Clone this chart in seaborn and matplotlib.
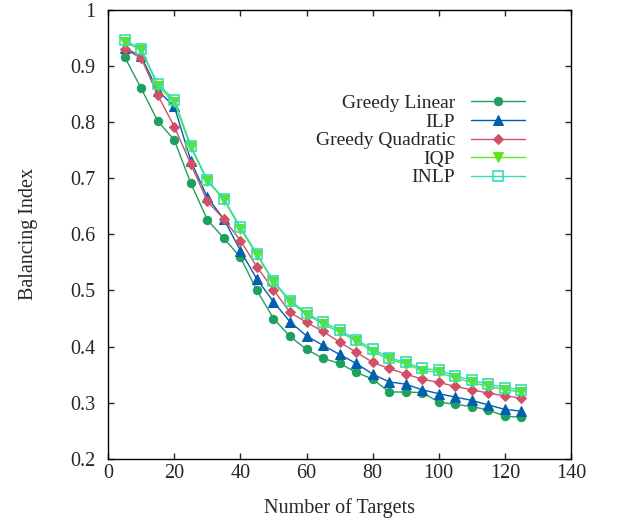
import numpy as np
import pandas as pd
import seaborn as sns
import matplotlib
matplotlib.use("Agg")
import matplotlib.pyplot as plt
from matplotlib.ticker import FuncFormatter

# dados
targets = [5, 10, 15, 20, 25, 30, 35, 40, 45, 50, 55, 60, 65,
           70, 75, 80, 85, 90, 95, 100, 105, 110, 115, 120, 125]

greedy_linear = [0.916, 0.860, 0.802, 0.768, 0.691, 0.626, 0.593, 0.559, 0.500, 0.450,
                 0.418, 0.395, 0.379, 0.370, 0.354, 0.342, 0.319, 0.319, 0.318, 0.301,
                 0.297, 0.293, 0.287, 0.276, 0.274]
ilp = [0.932, 0.917, 0.856, 0.828, 0.731, 0.666, 0.627, 0.571, 0.520, 0.480,
       0.444, 0.419, 0.402, 0.386, 0.370, 0.351, 0.337, 0.333, 0.323, 0.316,
       0.310, 0.304, 0.296, 0.288, 0.285]
greedy_quadratic = [0.930, 0.914, 0.848, 0.792, 0.725, 0.659, 0.627, 0.589, 0.542, 0.501,
                    0.461, 0.443, 0.427, 0.408, 0.390, 0.372, 0.361, 0.351, 0.342, 0.336,
                    0.329, 0.323, 0.317, 0.312, 0.308]
iqp = [0.943, 0.928, 0.865, 0.835, 0.755, 0.695, 0.662, 0.610, 0.563, 0.515,
       0.480, 0.457, 0.440, 0.426, 0.410, 0.391, 0.377, 0.369, 0.357, 0.354,
       0.344, 0.336, 0.329, 0.323, 0.319]
inlp = [0.946, 0.930, 0.868, 0.840, 0.758, 0.697, 0.663, 0.613, 0.565, 0.517,
        0.482, 0.460, 0.443, 0.430, 0.412, 0.396, 0.380, 0.372, 0.361, 0.358,
        0.348, 0.340, 0.333, 0.327, 0.323]

names = ["Greedy Linear", "ILP", "Greedy Quadratic", "IQP", "INLP"]
series = [greedy_linear, ilp, greedy_quadratic, iqp, inlp]
colors = ["#1ea05e", "#0060ad", "#d24f68", "#5ee41e", "#33dcb6"]
markers = ["o", "^", "D", "v", "s"]
msizes = [6.0, 6.5, 5.5, 6.5, 6.5]

sns.set_style("ticks")
plt.rcParams['font.family'] = ['Liberation Serif', 'DejaVu Serif']
plt.rcParams['font.size'] = 14

fig = plt.figure(figsize=(6.18, 5.19), dpi=100)
ax = fig.add_axes([0.175, 0.116, 0.749, 0.865])

for name, vals, c, m, ms in zip(names, series, colors, markers, msizes):
    df = pd.DataFrame({'x': targets, 'y': vals})
    kw = dict(mfc='none', mec=c, mew=1.2) if m == 's' else dict(mec=c)
    sns.lineplot(data=df, x='x', y='y', ax=ax, color=c, marker=m, markersize=ms,
                 linewidth=1.0, label=name, **kw)

ax.set_xlim(0, 140)
ax.set_ylim(0.2, 1.0)
ax.set_xticks(np.arange(0, 141, 20))
ax.set_yticks(np.arange(0.2, 1.01, 0.1))
ax.yaxis.set_major_formatter(FuncFormatter(lambda v, p: "%g" % round(v, 1)))
ax.tick_params(direction='in', top=True, right=True, length=4, width=1,
               labelsize=14.5)
ax.tick_params(axis='x', pad=4)
ax.tick_params(axis='y', pad=9)
for s in ax.spines.values():
    s.set_visible(True)
    s.set_linewidth(1.0)
    s.set_color('black')

ax.set_xlabel("Number of Targets", fontsize=14.5, labelpad=10.5)
ax.set_ylabel("Balancing Index", fontsize=14.5, labelpad=23)

# markerfirst=False deixa os textos alinhados a direita
ax.legend(loc='upper right', bbox_to_anchor=(0.922, 0.833), frameon=False,
          markerfirst=False, handlelength=2.8, handletextpad=0.8,
          labelspacing=0.05, borderpad=0, fontsize=14)

fig.savefig("out.png", dpi=100)
